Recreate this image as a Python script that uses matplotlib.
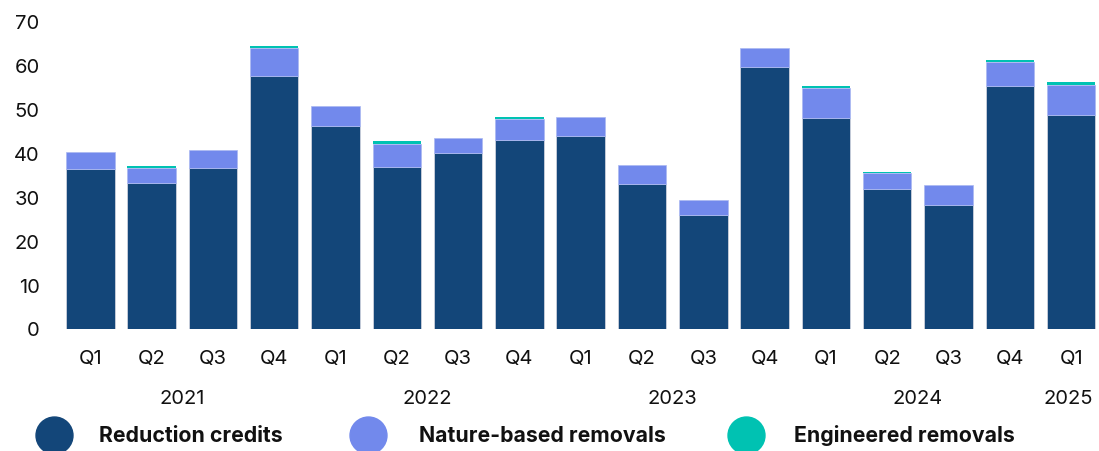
import matplotlib
matplotlib.use("Agg")
import matplotlib.pyplot as plt
from matplotlib.lines import Line2D
import numpy as np

plt.rcParams['font.family'] = ['Inter', 'DejaVu Sans']

quarters = ["Q1", "Q2", "Q3", "Q4", "Q1", "Q2", "Q3", "Q4", "Q1", "Q2", "Q3", "Q4",
            "Q1", "Q2", "Q3", "Q4", "Q1"]
years = ["2021", "2022", "2023", "2024", "2025"]
reduction = [36.3, 33.2, 36.5, 57.4, 46.0, 36.7, 39.9, 42.8, 43.8, 32.9, 25.7, 59.4,
             47.9, 31.7, 28.2, 55.1, 48.6]
nature = [3.9, 3.2, 4.0, 6.4, 4.6, 5.3, 3.4, 4.8, 4.3, 4.2, 3.5, 4.4,
          6.9, 3.6, 4.4, 5.5, 6.8]
engineered = [0.0, 0.6, 0.0, 0.5, 0.0, 0.6, 0.0, 0.4, 0.0, 0.0, 0.0, 0.0,
              0.4, 0.4, 0.0, 0.5, 0.6]
series_names = ["Reduction credits", "Nature-based removals", "Engineered removals"]

year_pos = [1.5, 5.5, 9.5, 13.5, 15.95]
colors = ["#134679", "#7289EC", "#00C2B2"]

W, H = 1099, 452
fig = plt.figure(figsize=(W / 100, H / 100), dpi=100)
step = 61.3
left_px = 90.3 - step / 2
ax = fig.add_axes([left_px / W, (H - 329.5) / H, 17 * step / W, (329.5 - 21.7) / H])

x = np.arange(len(quarters))
red = np.array(reduction)
nat = np.array(nature)
eng = np.array(engineered)
bw = 0.79
ax.bar(x, red, width=bw, color=colors[0], edgecolor="#c3cbd8", linewidth=0.7, zorder=2)
ax.bar(x, nat, width=bw, bottom=red, color=colors[1], edgecolor="#aab8f2", linewidth=0.5, zorder=2)
ax.bar(x, eng, width=bw, bottom=red + nat, color=colors[2], linewidth=0, zorder=2)

ax.set_xlim(-0.5, len(quarters) - 0.5)
ax.set_ylim(0, 70)
ax.set_yticks(np.arange(0, 71, 10))
ax.set_xticks(x)
ax.set_xticklabels(quarters)
ax.tick_params(axis='both', length=0, labelsize=14.5, colors="#111111")
ax.tick_params(axis='x', pad=15)
ax.tick_params(axis='y', pad=14.5)
for s in ax.spines.values():
    s.set_visible(False)

for yr, xp in zip(years, year_pos):
    ax.text(xp, (329.5 - 399.5) / (329.5 - 21.7), yr, transform=ax.get_xaxis_transform(),
            ha='center', va='center', fontsize=14.5, color="#111111")

# legend
leg_y = (H - 436) / H
marker_x = [54, 368, 746]
text_x = [99, 419, 794]
for name, c, mx, tx in zip(series_names, colors, marker_x, text_x):
    fig.add_artist(Line2D([mx / W], [leg_y], marker='o', markersize=26.6, color=c,
                          linestyle='none', transform=fig.transFigure))
    fig.text(tx / W, leg_y, name, ha='left', va='center', fontsize=15.3, fontweight='bold',
             color="#111111")

fig.savefig("out.png", dpi=100)
